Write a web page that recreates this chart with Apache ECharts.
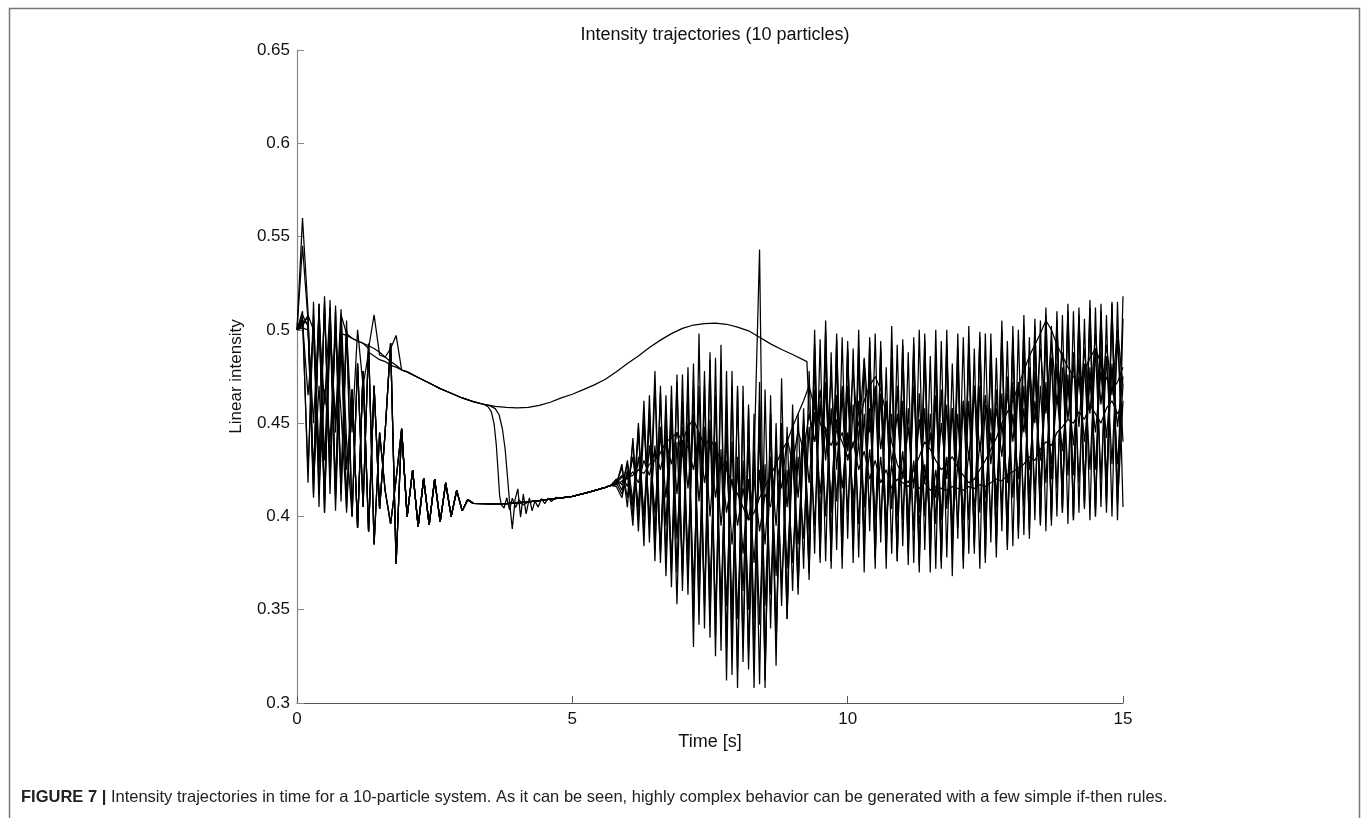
<!DOCTYPE html>
<html>
<head>
<meta charset="utf-8">
<script src="https://cdn.jsdelivr.net/npm/echarts@6/dist/echarts.min.js"></script>
<style>
html,body{margin:0;padding:0;background:#fff;}
#chart{width:1363px;height:818px;}
</style>
</head>
<body>
<div id="chart"></div>
<script>
// ---------- data ----------
const TITLE = 'Intensity trajectories (10 particles)';
const X_NAME = 'Time [s]';
const Y_NAME = 'Linear intensity';
const CAPTION_BOLD = 'FIGURE 7 |';
const CAPTION_TEXT = ' Intensity trajectories in time for a 10-particle system. As it can be seen, highly complex behavior can be generated with a few simple if-then rules.';
const SAMPLE_STEP = 0.1; // seconds between samples

// t = 0.0 .. 0.9
const start1  = [0.500,0.545,0.505,0.420,0.512,0.430,0.505,0.445,0.498,0.497];
const start2  = [0.500,0.560,0.510,0.412,0.514,0.402,0.516,0.410,0.508,0.498];
const start3  = [0.500,0.502,0.508,0.500,0.425,0.515,0.418,0.513,0.412,0.500];
const start4  = [0.500,0.505,0.503,0.410,0.514,0.402,0.510,0.412,0.505,0.402];
const start5  = [0.500,0.510,0.418,0.515,0.405,0.518,0.412,0.510,0.408,0.500];
const start6  = [0.500,0.503,0.507,0.422,0.505,0.460,0.512,0.415,0.508,0.425];
const start7  = [0.500,0.501,0.500,0.450,0.508,0.408,0.498,0.452,0.511,0.440];
const start8  = [0.500,0.508,0.502,0.418,0.470,0.415,0.505,0.403,0.492,0.410];
const start9  = [0.500,0.506,0.424,0.508,0.432,0.512,0.428,0.503,0.418,0.505];
const start10 = [0.500,0.504,0.465,0.500,0.415,0.468,0.440,0.498,0.456,0.404];

// t = 1.0 .. 1.8
const mid1 = [0.4955,0.494,0.4928,0.490,0.508,0.4865,0.4853,0.490,0.497];
const mid2 = [0.4955,0.494,0.4928,0.4915,0.490,0.488,0.4855,0.483,0.481];
const mid3 = [0.445,0.500,0.470,0.488,0.486,0.484,0.483,0.481,0.480];
const midLowerA = [0.468,0.394,0.478,0.392,0.470,0.404,0.445,0.493,0.3746];
const midLowerB = [0.400,0.482,0.405,0.4925,0.385,0.445,0.414,0.396,0.420];

// [t, value]
const upperCurve = [[1.9,0.4785],[2.0,0.4775],[2.2,0.4745],[2.4,0.4715],[2.6,0.4685],[2.8,0.466],[3.0,0.4635],[3.2,0.4615],[3.4,0.4600],[3.6,0.4590],[3.8,0.4584],[4.0,0.4582],[4.2,0.4585],[4.4,0.4595],[4.6,0.4612],[4.8,0.4635],[5.0,0.4655],[5.2,0.468],[5.4,0.4705],[5.6,0.4735],[5.8,0.4775],[6.0,0.482],[6.2,0.486],[6.4,0.4905],[6.6,0.4945],[6.8,0.4980],[7.0,0.5008],[7.2,0.5026],[7.4,0.5034],[7.6,0.5036],[7.8,0.5030],[8.0,0.5015],[8.2,0.4995],[8.4,0.4960],[8.6,0.4925],[8.8,0.4895],[9.0,0.4868],[9.26,0.4830]];
const dampedZigzag = [[1.9,0.447],[2.0,0.3999],[2.1,0.4249],[2.2,0.3945],[2.3,0.4204],[2.4,0.3954],[2.5,0.4200],[2.6,0.3970],[2.7,0.4180],[2.8,0.4000],[2.9,0.4140],[3.0,0.4030],[3.1,0.4090]];
const lowerCurve = [[3.2,0.407],[3.4,0.4068],[3.6,0.4067],[3.8,0.4068],[4.0,0.4072],[4.2,0.4078],[4.4,0.4085],[4.6,0.4093],[4.8,0.4100],[5.0,0.4108],[5.2,0.4122],[5.4,0.4138],[5.6,0.4156],[5.7,0.4166]];
const drop2 = [[3.47,0.4588],[3.53,0.4560],[3.58,0.4495],[3.62,0.4380],[3.65,0.4250],[3.68,0.4110],[3.71,0.4062],[3.76,0.4045],[3.81,0.4100],[3.86,0.4035],[3.91,0.4098],[3.97,0.4048],[4.03,0.4090],[4.1,0.4062]];
const drop3 = [[3.5,0.4594],[3.6,0.4578],[3.67,0.4545],[3.73,0.4470],[3.78,0.4360],[3.82,0.4220],[3.86,0.4076],[3.91,0.3933],[3.96,0.4090],[4.01,0.4148],[4.06,0.3996],[4.11,0.4120],[4.16,0.4014],[4.22,0.4100],[4.27,0.4030],[4.32,0.4082],[4.38,0.4050],[4.44,0.4095],[4.5,0.4068],[4.56,0.4098],[4.62,0.4080],[4.7,0.4102]];

// t = 9.3 .. 15.0
const noise1 = [0.455,0.440,0.468,0.430,0.475,0.425,0.470,0.435,
 0.478,0.440,0.485,0.445,0.470,0.436,0.462,0.428,0.455,0.420,
 0.448,0.415,0.452,0.418,0.445,0.410,0.450,0.420,0.458,0.425,
 0.462,0.430,0.470,0.435,0.465,0.428,0.458,0.432,0.466,0.440,
 0.472,0.445,0.480,0.450,0.490,0.455,0.495,0.460,0.488,0.452,
 0.482,0.448,0.490,0.455,0.498,0.460,0.492,0.465,0.500,0.470];
// t = 5.8 .. 15.0
const noise2 = [0.418,0.421,0.420,
 0.424,0.418,0.430,0.422,0.436,0.425,0.440,0.428,0.445,0.432,
 0.438,0.425,0.445,0.418,0.440,0.410,0.432,0.402,0.420,0.395,
 0.415,0.398,0.420,0.392,0.412,0.405,0.430,0.415,0.442,0.428,
 0.446,0.435,0.455,0.440,0.460,0.445,0.452,0.438,0.445,0.430,
 0.440,0.425,0.435,0.420,0.430,0.418,0.425,0.415,0.420,0.418,
 0.416,0.420,0.415,0.418,0.414,0.416,0.415,0.414,0.416,0.415,
 0.414,0.416,0.415,0.417,0.416,0.418,0.420,0.419,0.422,0.424,
 0.426,0.428,0.432,0.430,0.436,0.440,0.438,0.445,0.448,0.452,
 0.450,0.456,0.452,0.460,0.455,0.450,0.458,0.462,0.455,0.460];
const noise3 = [0.417,0.419,0.421,
 0.422,0.425,0.423,0.428,0.430,0.434,0.440,0.442,0.445,0.440,
 0.448,0.452,0.445,0.438,0.442,0.436,0.430,0.425,0.418,0.412,
 0.405,0.398,0.402,0.410,0.416,0.422,0.428,0.435,0.440,0.448,
 0.455,0.462,0.470,0.458,0.450,0.444,0.438,0.446,0.440,0.432,
 0.438,0.450,0.462,0.470,0.475,0.468,0.455,0.440,0.428,0.422,
 0.418,0.425,0.432,0.440,0.436,0.430,0.425,0.428,0.432,0.426,
 0.422,0.418,0.420,0.425,0.430,0.436,0.442,0.450,0.456,0.462,
 0.470,0.478,0.486,0.492,0.498,0.505,0.500,0.492,0.486,0.480,
 0.475,0.470,0.478,0.485,0.490,0.482,0.474,0.468,0.472,0.480];
const noise4 = [0.418,0.426,0.410,
 0.440,0.398,0.462,0.386,0.470,0.375,0.458,0.362,0.472,0.368,
 0.480,0.345,0.470,0.352,0.488,0.336,0.476,0.330,0.470,0.318,
 0.462,0.326,0.455,0.310,0.468,0.340,0.450,0.352,0.448,0.360,
 0.455,0.372,0.478,0.380,0.495,0.376,0.488,0.382,0.496,0.388,
 0.490,0.378,0.484,0.392,0.498,0.386,0.480,0.380,0.492,0.384,
 0.488,0.375,0.500,0.382,0.486,0.372,0.494,0.378,0.482,0.388,
 0.496,0.380,0.490,0.372,0.498,0.386,0.485,0.392,0.494,0.384,
 0.500,0.390,0.496,0.398,0.505,0.392,0.502,0.400,0.508,0.396,
 0.510,0.402,0.506,0.398,0.512,0.405,0.508,0.400,0.515,0.405];
const noise5 = [0.416,0.410,0.424,
 0.395,0.448,0.384,0.465,0.376,0.470,0.368,0.455,0.353,0.462,
 0.358,0.482,0.342,0.470,0.335,0.485,0.328,0.478,0.315,0.470,
 0.322,0.460,0.308,0.472,0.312,0.455,0.330,0.445,0.345,0.440,
 0.358,0.452,0.366,0.492,0.378,0.500,0.372,0.486,0.378,0.494,
 0.375,0.490,0.385,0.478,0.372,0.494,0.380,0.486,0.376,0.492,
 0.384,0.496,0.378,0.488,0.370,0.500,0.376,0.490,0.382,0.484,
 0.372,0.492,0.380,0.499,0.386,0.488,0.378,0.496,0.384,0.502,
 0.388,0.494,0.392,0.506,0.396,0.500,0.398,0.510,0.402,0.506,
 0.398,0.512,0.404,0.508,0.400,0.514,0.406,0.510,0.410,0.518];
const noise6 = [0.420,0.414,0.430,
 0.408,0.445,0.400,0.452,0.392,0.448,0.395,0.458,0.388,0.440,
 0.380,0.455,0.370,0.448,0.362,0.440,0.355,0.445,0.350,0.432,
 0.360,0.438,0.345,0.446,0.352,0.430,0.368,0.440,0.372,0.432,
 0.385,0.445,0.392,0.468,0.398,0.472,0.402,0.465,0.396,0.470,
 0.400,0.462,0.405,0.458,0.398,0.466,0.392,0.455,0.400,0.462,
 0.395,0.470,0.402,0.458,0.390,0.465,0.398,0.460,0.392,0.455,
 0.398,0.462,0.392,0.470,0.400,0.458,0.405,0.466,0.398,0.472,
 0.408,0.470,0.412,0.478,0.415,0.472,0.420,0.482,0.416,0.476,
 0.422,0.485,0.418,0.480,0.425,0.488,0.420,0.482,0.428,0.470];
const noise7 = [0.417,0.428,0.405,
 0.442,0.392,0.450,0.398,0.438,0.382,0.446,0.375,0.440,0.372,
 0.450,0.362,0.445,0.355,0.452,0.348,0.436,0.352,0.440,0.345,
 0.430,0.350,0.436,0.342,0.428,0.358,0.440,0.362,0.425,0.375,
 0.432,0.388,0.448,0.395,0.462,0.400,0.458,0.408,0.466,0.402,
 0.460,0.396,0.455,0.402,0.468,0.395,0.462,0.404,0.470,0.398,
 0.458,0.392,0.466,0.400,0.455,0.396,0.468,0.404,0.458,0.394,
 0.462,0.398,0.470,0.402,0.460,0.396,0.468,0.404,0.475,0.410,
 0.472,0.405,0.478,0.412,0.470,0.418,0.485,0.415,0.480,0.422,
 0.488,0.418,0.482,0.425,0.490,0.420,0.486,0.428,0.495,0.440];
const noise8 = [0.419,0.422,0.416,
 0.432,0.405,0.455,0.395,0.478,0.380,0.465,0.370,0.476,0.360,
 0.470,0.330,0.498,0.340,0.484,0.325,0.492,0.312,0.478,0.308,
 0.470,0.318,0.430,0.543,0.308,0.465,0.320,0.474,0.345,0.460,
 0.365,0.458,0.375,0.500,0.382,0.505,0.376,0.498,0.372,0.490,
 0.382,0.500,0.370,0.494,0.378,0.488,0.372,0.502,0.380,0.485,
 0.374,0.492,0.370,0.498,0.380,0.486,0.372,0.500,0.368,0.490,
 0.376,0.502,0.384,0.494,0.375,0.498,0.388,0.505,0.382,0.496,
 0.394,0.508,0.388,0.502,0.400,0.512,0.395,0.505,0.402,0.514,
 0.398,0.508,0.405,0.516,0.400,0.510,0.402,0.514,0.398,0.506];
const noise9 = [0.418,0.412,0.425,
 0.405,0.432,0.400,0.438,0.402,0.445,0.410,0.450,0.412,0.448,
 0.415,0.452,0.408,0.445,0.400,0.438,0.395,0.430,0.385,0.425,
 0.380,0.420,0.375,0.425,0.385,0.432,0.395,0.440,0.405,0.445,
 0.410,0.450,0.418,0.456,0.412,0.448,0.408,0.452,0.415,0.445,
 0.410,0.440,0.405,0.436,0.400,0.432,0.398,0.428,0.402,0.435,
 0.400,0.430,0.396,0.428,0.398,0.425,0.400,0.432,0.395,0.428,
 0.402,0.435,0.405,0.440,0.410,0.445,0.412,0.450,0.418,0.455,
 0.420,0.458,0.425,0.462,0.430,0.468,0.428,0.465,0.435,0.470,
 0.438,0.475,0.440,0.472,0.445,0.478,0.442,0.480,0.448,0.475];
const noise10 = [0.420,0.417,0.428,
 0.400,0.450,0.390,0.458,0.382,0.466,0.378,0.470,0.370,0.476,
 0.365,0.470,0.352,0.478,0.345,0.465,0.338,0.460,0.332,0.468,
 0.330,0.458,0.325,0.462,0.318,0.455,0.335,0.450,0.350,0.448,
 0.362,0.445,0.370,0.485,0.375,0.490,0.380,0.495,0.385,0.488,
 0.390,0.485,0.382,0.496,0.378,0.490,0.385,0.482,0.376,0.495,
 0.380,0.488,0.374,0.494,0.382,0.485,0.376,0.492,0.384,0.498,
 0.380,0.490,0.386,0.496,0.378,0.492,0.384,0.500,0.390,0.494,
 0.392,0.502,0.398,0.496,0.395,0.508,0.400,0.504,0.405,0.510,
 0.400,0.506,0.408,0.512,0.404,0.508,0.410,0.515,0.406,0.462];

const X_TICKS = {min: 0, max: 15, interval: 5};
const Y_TICKS = {min: 0.3, max: 0.65, interval: 0.05};

// ---------- build ----------
function onGrid(t0, values) {
  return values.map((v, i) => [Math.round((t0 + i * SAMPLE_STEP) * 100) / 100, v]);
}
const upTo = (arr, t) => arr.filter(p => p[0] <= t);
const from = (arr, t) => arr.filter(p => p[0] >= t);

const lowerPath = (start, mid, noise) => [
  ...onGrid(0, start), ...onGrid(1.0, mid), ...dampedZigzag, ...lowerCurve, ...onGrid(5.8, noise)
];

const particles = [
  [...onGrid(0, start1), ...onGrid(1.0, mid1), ...upperCurve, ...onGrid(9.3, noise1)],
  [...onGrid(0, start2), ...onGrid(1.0, mid2), ...upTo(upperCurve, 3.4), ...drop2, ...from(lowerCurve, 4.2), ...onGrid(5.8, noise2)],
  [...onGrid(0, start3), ...onGrid(1.0, mid3), ...upTo(upperCurve, 3.4), ...drop3, ...from(lowerCurve, 4.8), ...onGrid(5.8, noise3)],
  lowerPath(start4, midLowerA, noise4),
  lowerPath(start5, midLowerB, noise5),
  lowerPath(start6, midLowerA, noise6),
  lowerPath(start7, midLowerB, noise7),
  lowerPath(start8, midLowerA, noise8),
  lowerPath(start9, midLowerB, noise9),
  lowerPath(start10, midLowerA, noise10)
];

const FONT = "'Liberation Sans', Arial, Helvetica, sans-serif";
const chart = echarts.init(document.getElementById('chart'), null, {renderer: 'canvas'});
chart.setOption({
  animation: false,
  backgroundColor: '#ffffff',
  title: {
    text: TITLE, left: 710, top: 21, textAlign: 'center',
    textStyle: {fontFamily: FONT, fontSize: 18, fontWeight: 'normal', color: '#111'}
  },
  grid: {left: 297, right: 240, top: 50, bottom: 115, containLabel: false},
  xAxis: {
    type: 'value', min: X_TICKS.min, max: X_TICKS.max, interval: X_TICKS.interval,
    name: X_NAME, nameLocation: 'middle', nameGap: 30,
    nameTextStyle: {fontFamily: FONT, fontSize: 18, color: '#111'},
    axisLine: {lineStyle: {color: '#555', width: 1.2}},
    axisTick: {inside: true, length: 7, lineStyle: {color: '#555'}},
    axisLabel: {fontFamily: FONT, fontSize: 17, color: '#111', margin: 8},
    splitLine: {show: false}
  },
  yAxis: {
    type: 'value', min: Y_TICKS.min, max: Y_TICKS.max, interval: Y_TICKS.interval,
    name: Y_NAME, nameLocation: 'middle', nameGap: 52, nameRotate: 90,
    nameTextStyle: {fontFamily: FONT, fontSize: 17, color: '#111'},
    axisLine: {lineStyle: {color: '#888', width: 1.2}},
    axisTick: {inside: true, length: 7, lineStyle: {color: '#888'}},
    axisLabel: {fontFamily: FONT, fontSize: 17, color: '#111', margin: 7,
      formatter: v => String(+v.toFixed(2))},
    splitLine: {show: false}
  },
  series: particles.map((d, i) => ({
    type: 'line', name: 'particle ' + (i + 1), data: d,
    showSymbol: false, symbol: 'none', silent: true,
    lineStyle: {color: '#000', width: 1.25}
  })),
  graphic: [
    {type: 'rect', left: 7, top: 6, silent: true,
     shape: {x: 0, y: 0, width: 1350, height: 840},
     style: {fill: 'none', stroke: '#777', lineWidth: 1.5}},
    {type: 'text', left: 21, top: 789, silent: true,
     style: {
       text: '{b|' + CAPTION_BOLD + '}' + CAPTION_TEXT,
       fontFamily: FONT, fontSize: 16.5, fill: '#222',
       rich: {b: {fontFamily: FONT, fontSize: 16.5, fontWeight: 'bold', fill: '#222'}}
     }}
  ]
});
</script>
</body>
</html>
